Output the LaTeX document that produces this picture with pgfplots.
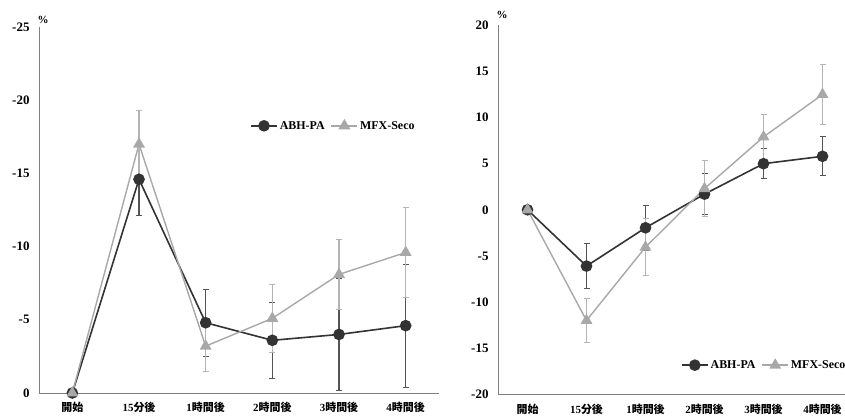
\documentclass[border=0pt]{standalone}
\usepackage{fontspec}
\setmainfont{Liberation Serif}
\newfontfamily\cjk{Noto Sans CJK JP}
\usepackage{pgfplots}
\pgfplotsset{compat=1.18}
\usepackage{pgfplotstable}

\definecolor{abh}{HTML}{333333}
\definecolor{abherr}{HTML}{555555}
\definecolor{mfx}{HTML}{A8A8A8}
\definecolor{mfxerr}{HTML}{B4B4B4}
\definecolor{axisgray}{HTML}{808080}

% change from start, left panel
\pgfplotstableread{
x abh abherr mfx mfxerr
0 0 0 0 0
1 -14.6 2.5 -17.0 2.3
2 -4.8 2.3 -3.2 1.7
3 -3.6 2.6 -5.1 2.3
4 -4.0 3.8 -8.1 2.4
5 -4.6 4.2 -9.6 3.1
}\lefttab

% change from start, right panel
\pgfplotstableread{
x abh abherr mfx mfxerr
0 0 0 0 0
1 -6.1 2.4 -12.0 2.35
2 -1.95 2.45 -4.05 3.1
3 1.7 2.2 2.3 3.05
4 5.0 1.6 7.9 2.4
5 5.8 2.1 12.5 3.2
}\righttab

\pgfplotsset{
  panel/.style={
    scale only axis,
    xmin=-0.5, xmax=5.5,
    xtick={0,...,5},
    xticklabels={{\cjk 開始},{15\cjk 分後},{1\cjk 時間後},{2\cjk 時間後},{3\cjk 時間後},{4\cjk 時間後}},
    axis x line*=bottom, axis y line*=left,
    axis line style={axisgray, line width=0.8bp},
    major tick length=0pt,
    tick label style={font=\fontsize{13}{15}\selectfont\bfseries},
    xticklabel style={font=\fontsize{11}{13}\selectfont\bfseries, yshift=-6bp},
    yticklabel style={xshift=-6bp},
    /pgf/number format/assume math mode=true,
    clip=false,
    legend columns=2,
    legend style={draw=none, fill=none, font=\fontsize{12}{14}\selectfont\bfseries,
      /tikz/every even column/.append style={column sep=4bp}},
    legend image code/.code={\draw[mark repeat=2,mark phase=2,##1] plot coordinates {(0bp,0bp) (13bp,0bp) (26bp,0bp)};},
  },
  abhplot/.style={abh, line width=1.6bp, mark=*, mark size=5bp, mark options={fill=abh, solid},
    error bars/.cd, y dir=both, y explicit,
    error bar style={color=abherr, line width=1.2bp},
    error mark options={rotate=90, mark size=3bp, abherr, line width=1bp}},
  mfxplot/.style={mfx, line width=1.4bp, mark=triangle*, mark size=5.5bp, mark options={fill=mfx, solid},
    error bars/.cd, y dir=both, y explicit,
    error bar style={color=mfxerr, line width=1.1bp},
    error mark options={rotate=90, mark size=3bp, mfxerr, line width=1bp}},
}

\begin{document}
\begin{tikzpicture}[x=1bp, y=1bp]
\begin{axis}[panel,
  at={(39bp,26bp)}, anchor=south west,
  width=400bp, height=366bp,
  ymin=-25, ymax=0, ytick={-25,-20,...,0},
  y dir=reverse,
  legend style={at={(axis description cs:0.52,0.73)}, anchor=west},
]
\addplot[abhplot] table[x=x, y=abh, y error=abherr]{\lefttab};
\addlegendentry{ABH-PA}
\addplot[mfxplot] table[x=x, y=mfx, y error=mfxerr]{\lefttab};
\addlegendentry{MFX-Seco}
\end{axis}

\begin{axis}[panel,
  at={(498bp,24.7bp)}, anchor=south west,
  width=354bp, height=369bp,
  ymin=-20, ymax=20, ytick={-20,-15,...,20},
  legend style={at={(axis description cs:0.508,0.079)}, anchor=west},
]
\addplot[abhplot] table[x=x, y=abh, y error=abherr]{\righttab};
\addlegendentry{ABH-PA}
\addplot[mfxplot] table[x=x, y=mfx, y error=mfxerr]{\righttab};
\addlegendentry{MFX-Seco}
\end{axis}

\node[font=\fontsize{11}{13}\selectfont\bfseries] at (43,399) {\%};
\node[font=\fontsize{11}{13}\selectfont\bfseries] at (502,404) {\%};

\pgfresetboundingbox
\path (0,0) rectangle (845,419);
\end{tikzpicture}
\end{document}
